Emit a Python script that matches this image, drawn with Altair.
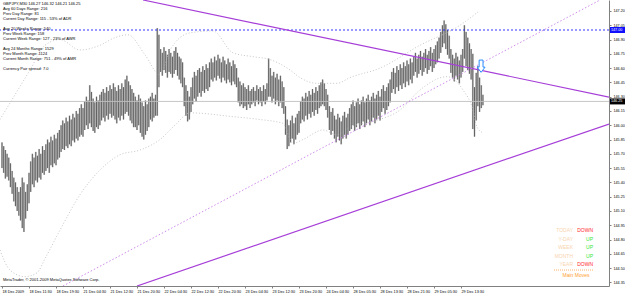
import altair as alt
import pandas as pd

# ---------------- data ----------------
highs = [
    145.82, 145.78, 145.74, 145.70,
    145.66, 145.60, 145.52, 145.45, 145.40, 145.35, 145.30,
    145.35, 145.45, 145.40, 145.30, 145.38, 145.50,
    145.62, 145.70, 145.66, 145.72, 145.68, 145.75, 145.70, 145.78, 145.74,
    145.80, 145.85, 145.82, 145.88, 145.84, 145.90, 145.86, 145.92, 145.95,
    146.00, 146.05, 146.02, 146.08, 146.04, 146.10, 146.06, 146.12, 146.08, 146.15, 146.12, 146.18,
    146.22, 146.18, 146.25, 146.30, 146.26, 146.42, 146.35, 146.28, 146.24, 146.30, 146.26, 146.32,
    146.35, 146.38, 146.34, 146.40, 146.36, 146.42, 146.38, 146.44, 146.40, 146.36, 146.42, 146.38,
    146.44, 146.40, 146.48, 146.52, 146.46, 146.42, 146.38, 146.34,
    146.30, 146.26, 146.32, 146.28, 146.24, 146.20, 146.26, 146.22, 146.28,
    146.30, 146.34, 146.28, 146.32,
    147.02, 146.95,
    146.80, 146.76, 146.82, 146.78, 146.74, 146.80, 146.76, 146.72, 146.78, 146.82, 146.76, 146.72, 146.70, 146.66,
    146.50, 146.42, 146.36, 146.30, 146.40,
    146.50, 146.56, 146.52, 146.58, 146.60, 146.56, 146.62, 146.58, 146.64, 146.60, 146.66,
    146.70, 146.66, 146.72, 146.68, 146.74, 146.70, 146.66, 146.72, 146.68, 146.64, 146.70, 146.66, 146.62, 146.68, 146.64, 146.60,
    146.50, 146.46, 146.42, 146.44, 146.40, 146.38, 146.42, 146.36,
    146.38, 146.40, 146.36, 146.42, 146.38, 146.40, 146.36, 146.42, 146.38, 146.44,
    146.70,
    146.60, 146.52, 146.56, 146.50, 146.54, 146.48, 146.52, 146.46, 146.40,
    146.20, 146.06, 146.00,
    146.05, 146.10, 146.02, 146.08, 146.12, 146.15,
    146.25, 146.30, 146.28, 146.34, 146.30, 146.36, 146.32, 146.38, 146.34, 146.40, 146.36, 146.42, 146.45, 146.48,
    146.44, 146.38, 146.32,
    146.20, 146.14, 146.18, 146.10, 146.06, 146.12, 146.08, 146.04, 146.10, 146.14, 146.08, 146.12, 146.18,
    146.22, 146.26, 146.20, 146.24, 146.28, 146.22, 146.26, 146.30, 146.24, 146.28, 146.32, 146.26, 146.30, 146.34, 146.28, 146.32, 146.36, 146.30,
    146.38, 146.42, 146.36, 146.40, 146.44, 146.48,
    146.56, 146.60, 146.55, 146.62, 146.58, 146.64, 146.60, 146.66, 146.62, 146.68, 146.64, 146.70, 146.66,
    146.72, 146.76, 146.70, 146.74, 146.78, 146.72, 146.76, 146.80, 146.74, 146.78, 146.82, 146.76, 146.80, 146.84, 146.88, 146.92,
    146.98, 147.05, 147.10, 147.06, 147.00, 146.94,
    146.80, 146.74, 146.70, 146.76, 146.72, 146.68, 146.74, 146.80,
    147.05,
    146.98, 146.92, 146.86, 146.80,
    146.75, 146.40, 146.55,
    146.62, 146.50, 146.42, 146.32,
]
lows = [
    145.55, 145.50, 145.44, 145.46,
    145.42, 145.35, 145.28, 145.20, 145.15, 145.10, 145.05,
    145.00, 144.92, 144.88, 145.02, 145.10, 145.18,
    145.30, 145.38, 145.35, 145.42, 145.40, 145.45, 145.43, 145.50, 145.48,
    145.52, 145.55, 145.50, 145.58, 145.56, 145.60, 145.58, 145.64, 145.66,
    145.72, 145.75, 145.74, 145.78, 145.76, 145.80, 145.78, 145.84, 145.82, 145.86, 145.84, 145.88,
    145.90, 145.88, 145.95, 146.00, 145.96, 146.02, 145.98, 145.94, 145.92, 145.98, 145.96, 146.00,
    146.05, 146.08, 146.04, 146.10, 146.06, 146.12, 146.08, 146.10, 146.06, 146.02, 146.08, 146.05,
    146.10, 146.06, 146.12, 146.14, 146.10, 146.05, 146.02, 145.98,
    145.98, 145.95, 146.00, 145.92, 145.88, 145.85, 145.90, 145.94, 145.98,
    146.06, 146.04, 146.08, 146.10,
    146.10, 146.40,
    146.56, 146.52, 146.58, 146.55, 146.50, 146.56, 146.54, 146.50, 146.54, 146.58, 146.52, 146.48, 146.44, 146.40,
    146.20, 146.10, 146.04, 146.06, 146.14,
    146.22, 146.28, 146.25, 146.30, 146.34, 146.30, 146.36, 146.34, 146.38, 146.36, 146.40,
    146.48, 146.46, 146.50, 146.47, 146.52, 146.49, 146.45, 146.50, 146.47, 146.44, 146.48, 146.45, 146.42, 146.46, 146.43, 146.40,
    146.24, 146.20, 146.22, 146.18, 146.20, 146.16, 146.22, 146.18,
    146.22, 146.24, 146.20, 146.26, 146.22, 146.24, 146.20, 146.25, 146.22, 146.26,
    146.30,
    146.30, 146.24, 146.28, 146.22, 146.26, 146.20, 146.24, 146.18, 146.12,
    145.90, 145.75, 145.78,
    145.82, 145.86, 145.80, 145.85, 145.90, 145.92,
    146.02, 146.06, 146.04, 146.10, 146.06, 146.12, 146.08, 146.14, 146.10, 146.16, 146.12, 146.18, 146.20, 146.22,
    146.20, 146.16, 146.08,
    145.95, 145.90, 145.94, 145.86, 145.82, 145.88, 145.84, 145.80, 145.86, 145.90, 145.86, 145.90, 145.94,
    145.96, 146.00, 145.94, 145.98, 146.02, 145.96, 146.00, 146.04, 145.98, 146.02, 146.06, 146.00, 146.04, 146.08, 146.02, 146.06, 146.10, 146.05,
    146.14, 146.18, 146.12, 146.16, 146.20, 146.24,
    146.34, 146.38, 146.33, 146.40, 146.36, 146.42, 146.38, 146.44, 146.40, 146.46, 146.42, 146.48, 146.44,
    146.52, 146.56, 146.50, 146.54, 146.58, 146.52, 146.56, 146.60, 146.54, 146.58, 146.62, 146.56, 146.60, 146.64, 146.66, 146.70,
    146.76, 146.82, 146.86, 146.80, 146.74, 146.70,
    146.55, 146.50, 146.46, 146.52, 146.48, 146.44, 146.50, 146.56,
    146.70,
    146.62, 146.58, 146.54, 146.48,
    145.96, 145.88, 146.05,
    146.20, 146.14, 146.18, 146.21,
]

time_labels = [
    "18 Dec 2009", "18 Dec 11:30", "18 Dec 19:30", "21 Dec 04:30", "21 Dec 12:30",
    "21 Dec 20:30", "22 Dec 04:30", "22 Dec 12:30", "22 Dec 20:30", "23 Dec 04:30",
    "23 Dec 12:30", "23 Dec 20:30", "24 Dec 04:30", "28 Dec 05:30", "28 Dec 13:30",
    "28 Dec 21:30", "29 Dec 05:30", "29 Dec 13:30",
]
time_ticks = [0, 16, 32, 48, 64, 80, 96, 112, 128, 144, 160, 176, 192, 208, 224, 240, 256, 272]

price_ticks = [144.35, 144.50, 144.65, 144.80, 144.95, 145.10, 145.25, 145.40, 145.55,
               145.70, 145.85, 146.00, 146.15, 146.30, 146.45, 146.60, 146.75, 146.90,
               147.05, 147.20]

# trend lines (bar index, price)
upper_line_i = [83.6, 359.7]
upper_line_p = [147.315, 146.296]
dotted_line_i = [36.1, 354.4]
dotted_line_p = [144.312, 147.315]
lower_line_i = [80.0, 359.7]
lower_line_p = [144.312, 146.013]

# envelope bands
band_up_i = [-1.19, 7.7, 16.6, 25.5, 34.4, 46.2, 58.1, 67.0, 74.7, 84.7, 93.6, 99.6,
             111.4, 125.0, 136.9, 148.7, 158.8, 170.7, 176.6, 186.7, 198.5, 206.2, 224.0,
             247.7, 271.4, 282.1]
band_up_p = [146.06, 146.32, 146.58, 146.84, 146.90, 146.79, 146.84, 146.92, 146.95, 146.74,
             146.53, 146.79,
             146.97, 146.99, 146.76, 146.72, 146.69, 146.58, 146.50, 146.44, 146.44, 146.50,
             146.60, 146.84, 147.05, 147.19]
band_lo_i = [-1.19, 4.7, 13.6, 20.7, 25.5, 34.4, 46.2, 58.1, 69.9, 81.8, 93.6, 102.5,
             111.4, 136.9, 152.9, 166.5, 172.4, 178.4, 190.2, 198.5, 206.2, 224.0, 235.9,
             247.7, 263.7, 273.2, 279.1, 281.5, 285.0]
band_lo_p = [144.69, 144.48, 144.41, 144.45, 144.60, 144.90, 145.27, 145.53, 145.69, 145.74,
             145.85, 146.00,
             146.13, 146.09, 146.06, 146.02, 145.81, 145.85, 145.95, 145.90, 145.98, 146.06,
             146.16, 146.37, 146.51, 146.37, 146.16, 145.98, 145.92]

level_price = 147.00
bid_price = 146.25
arrow_i = 283.9
arrow_p = 146.62

info_lines = [
    "GBPJPY,M30  146.27 146.32 146.21 146.25",
    "Avg 60 Days Range: 216",
    "Prev Day Range: 81",
    "Current Day Range: 115 - 53% of ADR",
    "Avg 20 Weeks Range: 540",
    "Prev Week Range: 158",
    "Current Week Range: 127 - 23% of AWR",
    "Avg 24 Months Range: 1529",
    "Prev Month Range: 1124",
    "Current Month Range: 751 - 49% of AMR",
    "Currency Pair spread: 7.0",
]
info_y = [4, 9, 14, 19, 29, 34, 39, 49, 54, 59, 69]

panel_labels = ["TODAY", "Y-DAY", "WEEK", "MONTH", "YEAR"]
panel_values = ["DOWN", "UP", "UP", "UP", "DOWN"]
panel_y = [230, 239, 247, 256, 264]

# ---------------- chart ----------------
FONT = "Liberation Sans"
W, H = 609, 286
xs = alt.Scale(domain=[-1.185, 359.7], nice=False, zero=False)
ys = alt.Scale(domain=[144.312, 147.315], nice=False, zero=False)

bars = pd.DataFrame({"i": list(range(len(highs))), "high": highs, "low": lows})

label_arr = "[" + ",".join("'" + t + "'" for t in time_labels) + "]"

x_axis = alt.Axis(values=time_ticks, labelExpr=label_arr + "[round(datum.value/16)]",
                  labelAlign="left", labelFontSize=3.8, labelFont=FONT, labelPadding=1,
                  labelColor="#000000", tickSize=2, tickColor="#808080",
                  domainColor="#808080", grid=False, title=None, labelOverlap=False,
                  labelFlush=False)
y_axis = alt.Axis(orient="right", values=price_ticks, format=".2f", labelFontSize=3.7,
                  labelFont=FONT, labelPadding=2, labelColor="#000000", tickSize=2,
                  tickColor="#808080", domainColor="#808080", grid=False, title=None,
                  labelOverlap=False, labelFlush=False)


def X(field):
    return alt.X(field, scale=xs, axis=x_axis, title=None)


def Y(field):
    return alt.Y(field, scale=ys, axis=y_axis, title=None)


bar_under = alt.Chart(bars).mark_rule(color="#c4c4c4", strokeWidth=1.8).encode(
    x=X("i:Q"), y=Y("low:Q"), y2="high:Q")
bar_top = alt.Chart(bars).mark_rule(color="#4a4a4a", strokeWidth=0.8).encode(
    x=X("i:Q"), y=Y("low:Q"), y2="high:Q")


def line_layer(i_vals, p_vals, color, width, dash=None, interp="linear"):
    df = pd.DataFrame({"i": i_vals, "p": p_vals})
    kw = dict(color=color, strokeWidth=width, clip=True, interpolate=interp)
    if dash:
        kw["strokeDash"] = dash
    return alt.Chart(df).mark_line(**kw).encode(x=X("i:Q"), y=Y("p:Q"))


band_up = line_layer(band_up_i, band_up_p, "#b8b8b8", 0.8, [1, 2], "monotone")
band_lo = line_layer(band_lo_i, band_lo_p, "#b8b8b8", 0.8, [1, 2], "monotone")
up_line = line_layer(upper_line_i, upper_line_p, "#a63ed8", 1.2)
dot_line = line_layer(dotted_line_i, dotted_line_p, "#c77ee8", 0.9, [1.5, 2])
low_line = line_layer(lower_line_i, lower_line_p, "#a63ed8", 1.2)

levels = pd.DataFrame({"p": [level_price]})
level_rule = alt.Chart(levels).mark_rule(color="#2020ff", strokeWidth=0.9, strokeDash=[2, 2]).encode(
    y=Y("p:Q"))
bid = pd.DataFrame({"p": [bid_price]})
bid_rule = alt.Chart(bid).mark_rule(color="#c0c0c0", strokeWidth=0.9).encode(y=Y("p:Q"))

arrow_df = pd.DataFrame({"i": [arrow_i], "p": [arrow_p]})
arrow = alt.Chart(arrow_df).mark_point(
    shape="M-0.32,-1L0.32,-1L0.32,0.15L0.65,0.15L0,1L-0.65,0.15L-0.32,0.15Z",
    size=150, filled=False, stroke="#2a8cff", fill="#ffffff", fillOpacity=1, strokeWidth=1,
    opacity=1,
).encode(x=X("i:Q"), y=Y("p:Q"))

# price boxes on the right axis
box_df = pd.DataFrame({"p": [level_price, bid_price], "c": ["#1010ff", "#000000"],
                       "t": ["147.00", "146.25"]})
boxes = alt.Chart(box_df).mark_tick(orient="horizontal", size=15, thickness=6, opacity=1).encode(
    x=alt.value(617.5), y=Y("p:Q"), color=alt.Color("c:N", scale=None))
box_text = alt.Chart(box_df).mark_text(fontSize=3.7, font=FONT, color="#ffffff",
                                       align="left", baseline="middle").encode(
    x=alt.value(611), y=Y("p:Q"), text="t:N")

layers = [bar_under, bar_top, band_up, band_lo, bid_rule, level_rule, up_line, dot_line,
          low_line, arrow, boxes, box_text]

dummy = pd.DataFrame({"a": [0]})
for txt, yy in zip(info_lines, info_y):
    layers.append(alt.Chart(dummy).mark_text(text=txt, fontSize=4, font=FONT, color="#000000",
                                             align="left", baseline="middle").encode(
        x=alt.value(3), y=alt.value(yy)))

layers.append(alt.Chart(dummy).mark_text(
    text="MetaTrader, \u00a9 2001-2009 MetaQuotes Software Corp.", fontSize=4, font=FONT,
    color="#000000", align="left", baseline="middle").encode(x=alt.value(3), y=alt.value(280)))

for lab, val, yy in zip(panel_labels, panel_values, panel_y):
    layers.append(alt.Chart(dummy).mark_text(text=lab, fontSize=5, font=FONT, color="#f8d4b0",
                                             align="right", baseline="middle").encode(
        x=alt.value(573), y=alt.value(yy)))
    layers.append(alt.Chart(dummy).mark_text(text=val, fontSize=5, font=FONT,
                                             color="#ff2a2a" if val == "DOWN" else "#33e633",
                                             align="right", baseline="middle").encode(
        x=alt.value(593), y=alt.value(yy)))

layers.append(alt.Chart(dummy).mark_rule(color="#ffa040", strokeDash=[1, 1], strokeWidth=0.8).encode(
    x=alt.value(554), x2=alt.value(594), y=alt.value(270)))
layers.append(alt.Chart(dummy).mark_text(text="Main Moves", fontSize=5, font=FONT, color="#ffa030",
                                         align="center", baseline="middle").encode(
    x=alt.value(576), y=alt.value(275)))

chart = alt.layer(*layers).properties(
    width=W, height=H,
    padding={"left": 0, "top": 0, "right": 16, "bottom": 8},
    autosize=alt.AutoSizeParams(type="none"),
    background="#ffffff",
).configure_view(stroke=None)

chart.save("out.html", embed_options={"renderer": "svg", "actions": False})
